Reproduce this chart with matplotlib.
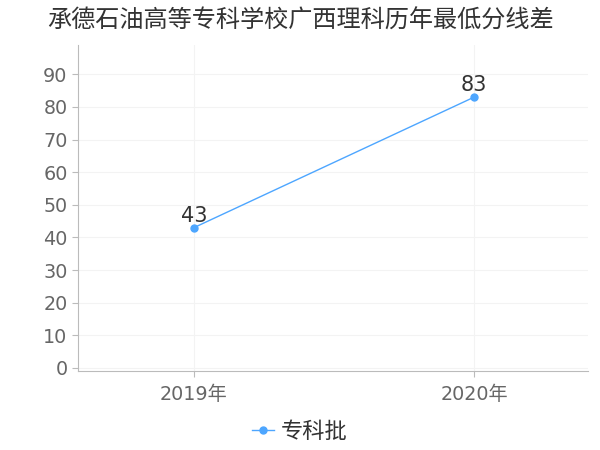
import matplotlib
matplotlib.use('Agg')
import matplotlib.pyplot as plt

plt.rcParams['font.family'] = ['DejaVu Sans', 'Noto Sans CJK SC']

title = '承德石油高等专科学校广西理科历年最低分线差'
years = ['2019年', '2020年']
scores = [43, 83]
series_name = '专科批'
line_color = '#4da6ff'

fig = plt.figure(figsize=(6, 4.5), dpi=100)
ax = fig.add_axes([0.13, 0.176, 0.85, 0.724])

x = list(range(len(years)))
ax.plot(x, scores, color=line_color, linewidth=1, marker='o', markersize=5,
        label=series_name)
for xi, v in zip(x, scores):
    ax.annotate(str(v), (xi, v), xytext=(0, 1.5), textcoords='offset points',
                ha='center', va='bottom', fontsize=15, color='#333333')

ax.set_xlim(-0.414, 1.407)
ax.set_ylim(-0.9, 99)
ax.set_yticks(range(0, 100, 10))
ax.set_xticks(x)
ax.set_xticklabels(years)
ax.grid(True, color='#f3f3f3', linewidth=0.8)
ax.set_axisbelow(True)

for side in ['top', 'right']:
    ax.spines[side].set_visible(False)
for side in ['left', 'bottom']:
    ax.spines[side].set_color('#bbbbbb')
ax.tick_params(axis='both', colors='#bbbbbb', labelcolor='#666666', labelsize=13.8, length=4)
ax.tick_params(axis='x', pad=6)

fig.text(0.5, 0.955, title, ha='center', va='center', fontsize=17.4, color='#333333')
fig.legend(loc='center', bbox_to_anchor=(0.5, 0.04), frameon=False, fontsize=16,
           handlelength=1.0, handletextpad=0.3, labelcolor='#333333')

fig.savefig('out.png', dpi=100)
